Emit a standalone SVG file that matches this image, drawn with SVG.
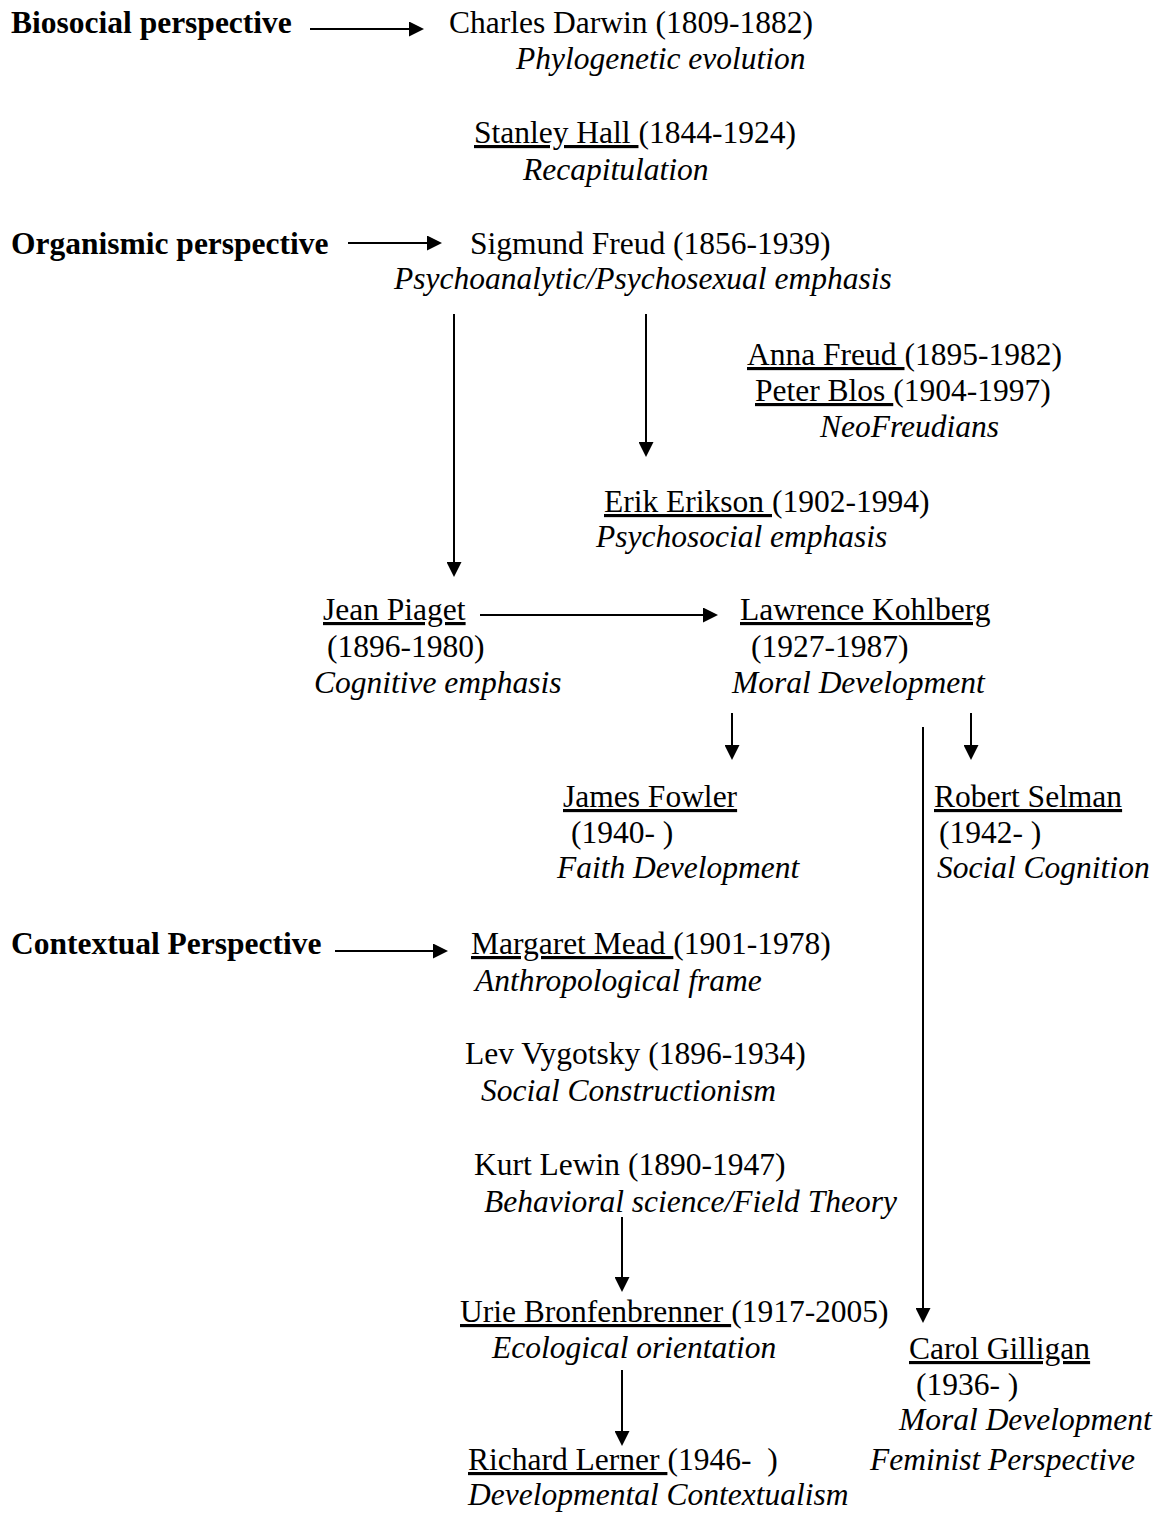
<svg xmlns="http://www.w3.org/2000/svg" width="1160" height="1516" viewBox="0 0 1160 1516">
<style>
text{font-family:"Liberation Serif","Times New Roman",serif;font-size:31.5px;fill:#000}
.b{font-weight:bold}
.i{font-style:italic}
.u{text-decoration:underline}
.c{stroke:#000;stroke-width:2;fill:none}
</style>
<defs>
<marker id="ah" markerUnits="userSpaceOnUse" markerWidth="15" markerHeight="15" refX="7" refY="7.5" orient="auto">
<path d="M0,0 L15,7.5 L0,15 Z" fill="#000"/>
</marker>
</defs>
<rect width="1160" height="1516" fill="#fff"/>
<g id="connectors">
<line class="c" x1="310" y1="29" x2="416" y2="29" marker-end="url(#ah)"/>
<line class="c" x1="348" y1="243" x2="434" y2="243" marker-end="url(#ah)"/>
<line class="c" x1="454" y1="314" x2="454" y2="569" marker-end="url(#ah)"/>
<line class="c" x1="646" y1="314" x2="646" y2="449" marker-end="url(#ah)"/>
<line class="c" x1="480" y1="615" x2="710" y2="615" marker-end="url(#ah)"/>
<line class="c" x1="732" y1="713" x2="732" y2="752" marker-end="url(#ah)"/>
<line class="c" x1="971" y1="713" x2="971" y2="752" marker-end="url(#ah)"/>
<line class="c" x1="923" y1="727" x2="923" y2="1315" marker-end="url(#ah)"/>
<line class="c" x1="335" y1="951" x2="440" y2="951" marker-end="url(#ah)"/>
<line class="c" x1="622" y1="1217" x2="622" y2="1284" marker-end="url(#ah)"/>
<line class="c" x1="622" y1="1370" x2="622" y2="1438" marker-end="url(#ah)"/>
</g>
<g id="biosocial"><text class="b" x="11" y="33">Biosocial perspective</text></g>
<g id="darwin"><text x="449" y="33">Charles Darwin (1809-1882)</text><text class="i" x="516" y="69">Phylogenetic evolution</text></g>
<g id="hall"><text x="474" y="143"><tspan class="u">Stanley Hall </tspan>(1844-1924)</text><text class="i" x="523" y="180">Recapitulation</text></g>
<g id="organismic"><text class="b" x="11" y="254">Organismic perspective</text></g>
<g id="freud"><text x="470" y="254">Sigmund Freud (1856-1939)</text><text class="i" x="394" y="289">Psychoanalytic/Psychosexual emphasis</text></g>
<g id="neofreudians"><text x="747" y="365"><tspan class="u">Anna Freud </tspan>(1895-1982)</text><text x="755" y="401"><tspan class="u">Peter Blos </tspan>(1904-1997)</text><text class="i" x="820" y="437">NeoFreudians</text></g>
<g id="erikson"><text x="604" y="512"><tspan class="u">Erik Erikson </tspan>(1902-1994)</text><text class="i" x="596" y="547">Psychosocial emphasis</text></g>
<g id="piaget"><text class="u" x="323" y="620">Jean Piaget</text><text x="327" y="657">(1896-1980)</text><text class="i" x="314" y="693">Cognitive emphasis</text></g>
<g id="kohlberg"><text class="u" x="740" y="620">Lawrence Kohlberg</text><text x="751" y="657">(1927-1987)</text><text class="i" x="732" y="693">Moral Development</text></g>
<g id="fowler"><text class="u" x="563" y="807">James Fowler</text><text x="571" y="843">(1940- )</text><text class="i" x="557" y="878">Faith Development</text></g>
<g id="selman"><text class="u" x="934" y="807">Robert Selman</text><text x="939" y="843">(1942- )</text><text class="i" x="937" y="878">Social Cognition</text></g>
<g id="contextual"><text class="b" x="11" y="954">Contextual Perspective</text></g>
<g id="mead"><text x="471" y="954"><tspan class="u">Margaret Mead </tspan>(1901-1978)</text><text class="i" x="475" y="991">Anthropological frame</text></g>
<g id="vygotsky"><text x="465" y="1064">Lev Vygotsky (1896-1934)</text><text class="i" x="481" y="1101">Social Constructionism</text></g>
<g id="lewin"><text x="474" y="1175">Kurt Lewin (1890-1947)</text><text class="i" x="484" y="1212">Behavioral science/Field Theory</text></g>
<g id="bronfenbrenner"><text x="460" y="1322"><tspan class="u">Urie Bronfenbrenner </tspan>(1917-2005)</text><text class="i" x="492" y="1358">Ecological orientation</text></g>
<g id="gilligan"><text class="u" x="909" y="1359">Carol Gilligan</text><text x="916" y="1395">(1936- )</text><text class="i" x="899" y="1430">Moral Development</text><text class="i" x="870" y="1470">Feminist Perspective</text></g>
<g id="lerner"><text x="468" y="1470"><tspan class="u">Richard Lerner </tspan>(1946-&#160; )</text><text class="i" x="468" y="1505">Developmental Contextualism</text></g>
</svg>
